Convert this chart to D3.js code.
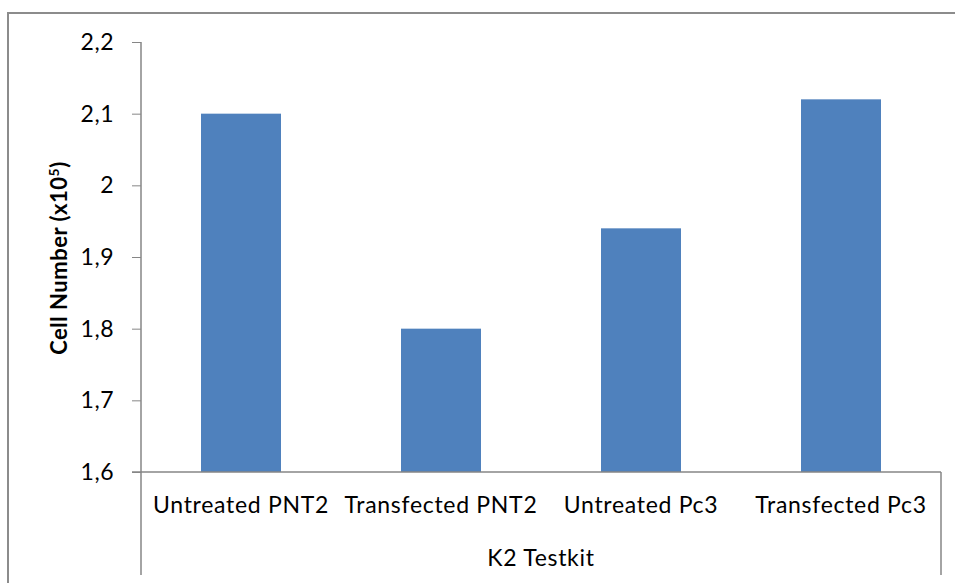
<!DOCTYPE html>
<html>
<head>
<meta charset="utf-8">
<script src="https://cdn.jsdelivr.net/npm/d3@7"></script>
<style>
body{margin:0;background:#fff}
text{font-family:Lato,"Open Sans",sans-serif;fill:#000}
</style>
</head>
<body>
<svg id="chart" width="955" height="583"></svg>
<script>
// data
var categories = ["Untreated PNT2","Transfected PNT2","Untreated Pc3","Transfected Pc3"]
var cell_number = [2.10, 1.80, 1.94, 2.12]
var y_ticks = [1.6, 1.7, 1.8, 1.9, 2.0, 2.1, 2.2]
var group_label = "K2 Testkit"

var svg = d3.select("#chart")

// outer frame
svg.append("rect")
    .attr("x",8).attr("y",13)
    .attr("width",960).attr("height",600)
    .attr("fill","none").attr("stroke","#8c8c8c").attr("stroke-width",2)

var plot_left = 141, plot_right = 941, plot_top = 42, plot_bottom = 472

var x = d3.scaleBand().domain(categories).range([plot_left,plot_right])
    .paddingInner(0.6).paddingOuter(0.3)
var y = d3.scaleLinear().domain([1.6,2.2]).range([plot_bottom,plot_top])

// bars
svg.append("g").selectAll("rect")
    .data(categories)
    .enter().append("rect")
    .attr("x",function(d){return x(d)})
    .attr("width",x.bandwidth())
    .attr("y",function(d,i){return y(cell_number[i])})
    .attr("height",function(d,i){return plot_bottom - y(cell_number[i])})
    .attr("fill","#4f81bd")

// y axis
var yAxis = d3.axisLeft(y).tickValues(y_ticks).tickSize(9).tickPadding(18)
    .tickFormat(function(d){return d3.format(".1f")(d).replace(".0","").replace(".",",")})
var gy = svg.append("g").attr("transform","translate("+plot_left+",0)").call(yAxis)
gy.select(".domain").remove()
gy.selectAll("line").attr("stroke","#868686")
gy.selectAll("text").style("font-size","23px").style("letter-spacing","0.5px").attr("fill","#000")
svg.append("line").attr("x1",plot_left).attr("x2",plot_left).attr("y1",plot_top).attr("y2",575)
    .attr("stroke","#868686").attr("stroke-width",1.5)

// x axis
var gx = svg.append("g").attr("transform","translate(0,"+plot_bottom+")")
    .call(d3.axisBottom(x).tickSize(0).tickPadding(25))
gx.select(".domain").remove()
gx.selectAll("text").style("font-size","23px").style("letter-spacing","0.7px").attr("fill","#000")
svg.append("line").attr("x1",132).attr("x2",plot_right).attr("y1",plot_bottom).attr("y2",plot_bottom)
    .attr("stroke","#868686").attr("stroke-width",1.5)
svg.append("line").attr("x1",plot_right).attr("x2",plot_right).attr("y1",plot_bottom).attr("y2",575)
    .attr("stroke","#868686").attr("stroke-width",1.5)

svg.append("text")
    .attr("x",(plot_left+plot_right)/2).attr("y",566)
    .attr("text-anchor","middle")
    .style("font-size","23px").style("letter-spacing","0.7px")
    .text(group_label)

// y title
var yt = svg.append("text")
    .attr("transform","translate(67,258) rotate(-90)")
    .attr("text-anchor","middle")
    .style("font-size","22px").style("font-weight","bold").style("letter-spacing","0.5px")
yt.append("tspan").text("Cell Number (x10")
yt.append("tspan").attr("dy",-8).style("font-size","14px").text("5")
yt.append("tspan").attr("dy",8).text(")")
</script>
</body>
</html>
